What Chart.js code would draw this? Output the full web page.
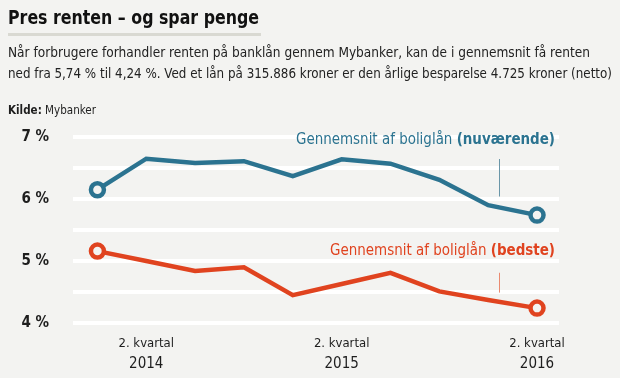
<!DOCTYPE html>
<html><head><meta charset="utf-8">
<script src="https://cdn.jsdelivr.net/npm/chart.js@4"></script>
<style>
html,body{margin:0;padding:0;background:#f3f3f1;}
body{width:620px;height:378px;position:relative;overflow:hidden;font-family:"DejaVu Sans Condensed","Liberation Sans",sans-serif;color:#1e1e1e;}
.fit{display:inline-block;white-space:nowrap;transform-origin:0 0;}
#title{position:absolute;left:8px;top:5px;font-size:20px;font-weight:bold;line-height:25px;color:#111}
#rule{position:absolute;left:8px;top:33px;width:253px;height:3px;background:#d9d9d2;}
#sub1{position:absolute;left:8px;top:43px;font-size:14.5px;line-height:18px;color:#222}
#sub2{position:absolute;left:8px;top:64px;font-size:14.5px;line-height:18px;color:#222}
#src{position:absolute;left:8px;top:102px;font-size:12.5px;line-height:15px;}
#wrap{position:absolute;left:0;top:0;width:620px;height:378px}
</style></head>
<body>
<div id="wrap"><canvas id="c" width="620" height="378"></canvas></div>
<div id="title" class="fit" data-w="251">Pres renten – og spar penge</div>
<div id="rule"></div>
<div id="sub1" class="fit" data-w="582">Når forbrugere forhandler renten på banklån gennem Mybanker, kan de i gennemsnit få renten</div>
<div id="sub2" class="fit" data-w="604">ned fra 5,74 % til 4,24 %. Ved et lån på 315.886 kroner er den årlige besparelse 4.725 kroner (netto)</div>
<div id="src" class="fit" data-w="88"><b>Kilde:</b> Mybanker</div>
<script>
// Quarterly data, Q1 2014 – Q2 2016
const quarters = ['1. kvt 2014','2. kvt 2014','3. kvt 2014','4. kvt 2014','1. kvt 2015','2. kvt 2015','3. kvt 2015','4. kvt 2015','1. kvt 2016','2. kvt 2016'];
const currentRate = [6.15, 6.65, 6.58, 6.61, 6.37, 6.64, 6.57, 6.31, 5.90, 5.74];
const bestRate    = [5.16, 5.00, 4.84, 4.90, 4.45, 4.63, 4.81, 4.51, 4.37, 4.24];
const seriesNormal = ['Gennemsnit af boliglån ', 'Gennemsnit af boliglån '];
const seriesBold   = ['(nuværende)', '(bedste)'];
const xTickIndex   = [1, 5, 9];
const xTickTop     = ['2. kvartal', '2. kvartal', '2. kvartal'];
const xTickYear    = ['2014', '2015', '2016'];
const yTicks       = [4, 5, 6, 7];

document.querySelectorAll('.fit').forEach(el => {
  const w = el.getBoundingClientRect().width;
  const target = +el.dataset.w;
  if (w > 0) el.style.transform = 'scaleX(' + (target / w) + ')';
});

const BLUE = '#2b7390', RED = '#e0431f', BG = '#f3f3f1';
const FONT = '"DejaVu Sans Condensed","Liberation Sans",sans-serif';
Chart.defaults.font.family = FONT;
Chart.defaults.color = '#1e1e1e';

const toXY = arr => arr.map((v, i) => ({x: i, y: v}));
const endsOnly = (r) => (ctx) => (ctx.dataIndex === 0 || ctx.dataIndex === ctx.dataset.data.length - 1) ? r : 0;

const annot = {
  id: 'annot',
  afterDatasetsDraw(chart) {
    const {ctx, scales: {x, y}, chartArea} = chart;
    const cfg = [
      {color: BLUE, lead: '#6a96a8', baseV: 6.88, l0: 6.645, l1: 6.04, w: 259},
      {color: RED,  lead: '#ea8a70', baseV: 5.095, l0: 4.81,  l1: 4.49, w: 225}
    ];
    ctx.save();
    cfg.forEach((c, i) => {
      const right = chartArea.right - 4;
      const base = y.getPixelForValue(c.baseV);
      ctx.font = 'bold 16px ' + FONT;
      const wb = ctx.measureText(seriesBold[i]).width;
      ctx.font = '16px ' + FONT;
      const wn = ctx.measureText(seriesNormal[i]).width;
      const s = c.w / (wb + wn);
      ctx.save();
      ctx.translate(right, base);
      ctx.scale(s, 1);
      ctx.fillStyle = c.color;
      ctx.textBaseline = 'alphabetic';
      ctx.textAlign = 'right';
      ctx.font = 'bold 16px ' + FONT;
      ctx.fillText(seriesBold[i], 0, 0);
      ctx.font = '16px ' + FONT;
      ctx.fillText(seriesNormal[i], -wb, 0);
      ctx.restore();
      const lx = Math.round(x.getPixelForValue(8.22)) + 0.5;
      ctx.strokeStyle = c.lead;
      ctx.lineWidth = 1;
      ctx.beginPath();
      ctx.moveTo(lx, y.getPixelForValue(c.l0));
      ctx.lineTo(lx, y.getPixelForValue(c.l1));
      ctx.stroke();
    });
    ctx.restore();
  }
};

const xBase = {
  type: 'linear', min: -0.5, max: 9.45, position: 'bottom',
  grid: {display: false, drawTicks: false}, border: {display: false},
  afterBuildTicks: (s) => { s.ticks = xTickIndex.map(v => ({value: v})); }
};

new Chart(document.getElementById('c'), {
  type: 'line',
  data: {
    datasets: [
      {label: 'nuværende', data: toXY(currentRate), borderColor: BLUE, borderWidth: 4.5,
       pointRadius: endsOnly(6.5), pointBorderWidth: 4.5, pointBackgroundColor: BG, pointBorderColor: BLUE,
       tension: 0, borderJoinStyle: 'miter'},
      {label: 'bedste', data: toXY(bestRate), borderColor: RED, borderWidth: 4.5,
       pointRadius: endsOnly(6.5), pointBorderWidth: 4.5, pointBackgroundColor: BG, pointBorderColor: RED,
       tension: 0, borderJoinStyle: 'miter'}
    ]
  },
  options: {
    responsive: false, animation: false, devicePixelRatio: 1,
    layout: {padding: {top: 137, right: 61, left: 0, bottom: 0}},
    plugins: {legend: {display: false}, tooltip: {enabled: false}},
    scales: {
      x: Object.assign({}, xBase, {
        ticks: {autoSkip: false, maxRotation: 0, padding: 13, color: '#1e1e1e', font: {size: 13},
                callback: (v) => xTickTop[xTickIndex.indexOf(v)]},
        afterFit: (s) => { s.height = 26; }
      }),
      x2: Object.assign({}, xBase, {
        ticks: {autoSkip: false, maxRotation: 0, padding: 6, color: '#1e1e1e', font: {size: 15},
                callback: (v) => xTickYear[xTickIndex.indexOf(v)]},
        afterFit: (s) => { s.height = 29; }
      }),
      y: {
        min: 4, max: 7,
        grid: {color: '#ffffff', lineWidth: 4, drawTicks: false}, border: {display: false},
        ticks: {stepSize: 0.5, padding: 24, color: '#1e1e1e', font: {size: 15, weight: 'bold'},
                callback: (v) => yTicks.includes(v) ? v + ' %' : ''},
        afterFit: (s) => { s.width = 73; }
      }
    }
  },
  plugins: [annot]
});
</script>
</body></html>
